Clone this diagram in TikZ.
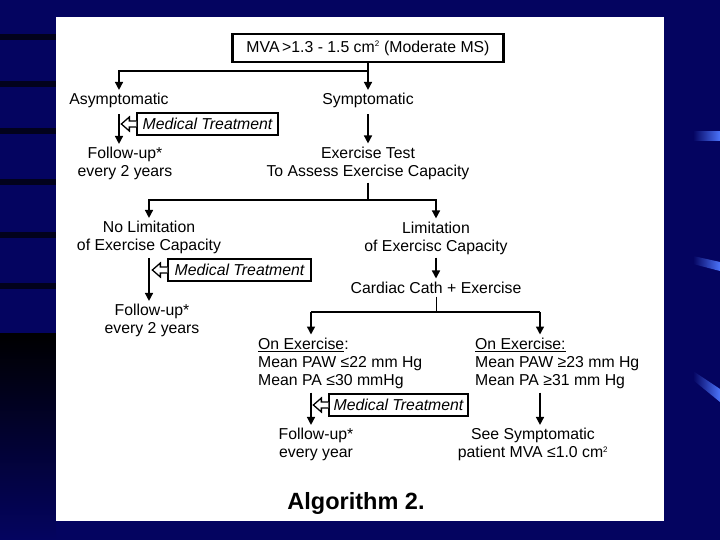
\documentclass[tikz,border=0pt]{standalone}
\usepackage{fontspec}
\setmainfont{Liberation Sans}
\usetikzlibrary{arrows.meta,calc}
\definecolor{navy}{RGB}{4,4,96}
\definecolor{stripe}{RGB}{2,2,28}
\definecolor{barblue}{RGB}{75,115,250}
\tikzset{
  txt/.style={font=\fontsize{15.8}{18}\selectfont, align=center, inner sep=0pt, yshift=-1.5pt},
  mtbox/.style={draw, line width=1.3pt, font=\fontsize{15.8}{18}\selectfont\itshape, inner sep=0pt, minimum height=22pt},
  conn/.style={line width=1.5pt},
  arr/.style={conn, -{Triangle[width=8pt,length=8pt]}, shorten >=3pt},
  branch/.style={line width=2.4pt},
  hol/.style={line width=1.3pt, fill=white, line join=miter},
}
\begin{document}
\begin{tikzpicture}[x=1pt,y=-1pt]
\useasboundingbox (0,0) rectangle (720,540);
% background
\fill[navy] (0,0) rectangle (720,540);
\foreach \yy in {37,84,131,182,235,286}{\fill[stripe] (0,\yy-3) rectangle (56,\yy+3);}
\shade[top color=black, bottom color=navy] (0,333) rectangle (56,540);
\shade[left color=navy, right color=barblue] (693,132) rectangle (720,141);
\shade[left color=navy, right color=barblue] (693,256) -- (720,262) -- (720,271) -- (693,264) -- cycle;
\shade[left color=navy, right color=barblue] (693,371) -- (720,389) -- (720,402) -- (693,380) -- cycle;
% panel
\fill[white] (56,17) rectangle (664,521);

% top
\node[draw, line width=2.4pt, minimum width=271pt, minimum height=28pt, font=\fontsize{15.8}{18}\selectfont, inner sep=0pt] (mva) at (368,48) {MVA\,>1.3 - 1.5 cm\textsuperscript{\footnotesize 2} (Moderate MS)};
\node[txt] (asym) at (119,99) {Asymptomatic};
\node[txt] (sym) at (368,99) {Symptomatic};
\coordinate (b1) at (368,71);
\draw[conn] (mva.south) -- (b1);
\draw[arr] (b1) -| (asym.north);
\draw[arr] (b1) -- (b1 |- sym.north);

% left top
\node[txt] (fu1) at (125,162) {Follow-up*\\every 2 years};
\node[mtbox, minimum width=141pt] (mt1) at (207.5,124) {Medical Treatment};
\draw[arr, shorten <=6pt] (asym.south) -- (asym.south |- fu1.north);
\draw[hol] ($(mt1.west)+(0,3)$) -- ++(-7,0) -- ++(0,4) -- ++(-8,-7) -- ++(8,-7) -- ++(0,4) -- ++(7,0);

% exercise test
\node[txt] (ex) at (368,161.5) {Exercise Test\\To Assess Exercise Capacity};
\draw[arr, shorten <=6pt] (sym.south) -- (sym.south |- ex.north);
\coordinate (b2) at (368,200);
\node[txt] (nolim) at (149,236) {No Limitation\\of Exercise Capacity};
\node[txt] (lim) at (436,236.5) {Limitation\\of Exercisc Capacity};
\draw[conn, shorten <=3pt] (ex.south) -- (b2);
\draw[branch] (nolim.north |- b2) -- (lim.north |- b2);
\draw[arr] (b2) -| (nolim.north);
\draw[arr] (b2) -| (lim.north);

% no limitation branch
\node[txt] (fu2) at (152,319) {Follow-up*\\every 2 years};
\node[mtbox, minimum width=143pt] (mt2) at (239.5,270) {Medical Treatment};
\draw[arr, shorten <=4pt] (nolim.south) -- (nolim.south |- fu2.north);
\draw[hol] ($(mt2.west)+(0,3)$) -- ++(-7,0) -- ++(0,4) -- ++(-8,-7) -- ++(8,-7) -- ++(0,4) -- ++(7,0);

% limitation branch
\node[txt] (cath) at (436,286) {Cardiac Cath + Exercise};
\draw[arr, shorten <=3pt] (lim.south) -- (lim.south |- cath.north);
\coordinate (b3) at (436,312);
\draw[line width=0.9pt, shorten <=3pt] (cath.south) -- (b3);
\coordinate (l3) at (311,312);
\coordinate (r3) at (540,312);
\node[txt, align=left, anchor=north west] (oe1) at (258,336) {\underline{On Exercise}:\\Mean PAW ≤22 mm Hg\\Mean PA ≤30 mmHg};
\node[txt, align=left, anchor=north west] (oe2) at (475,336) {\underline{On Exercise:}\\Mean PAW ≥23 mm Hg\\Mean PA ≥31 mm Hg};
\draw[branch] (l3) -- (r3);
\draw[arr] (l3) -- (l3 |- oe1.north);
\draw[arr] (r3) -- (r3 |- oe2.north);

% bottom
\node[txt] (fu3) at (316,443) {Follow-up*\\every year};
\node[txt] (ssym) at (533,443) {See Symptomatic\\patient MVA ≤1.0 cm\textsuperscript{\footnotesize 2}};
\node[mtbox, minimum width=139pt] (mt3) at (398.5,405) {Medical Treatment};
\draw[arr, shorten <=4pt] (l3 |- oe1.south) -- (l3 |- fu3.north);
\draw[arr, shorten <=4pt] (r3 |- oe2.south) -- (r3 |- ssym.north);
\draw[hol] ($(mt3.west)+(0,3)$) -- ++(-7,0) -- ++(0,4) -- ++(-8,-7) -- ++(8,-7) -- ++(0,4) -- ++(7,0);

\node[font=\fontsize{23.5}{26}\selectfont\bfseries, inner sep=0pt] (alg) at (356,503) {Algorithm 2.};
\end{tikzpicture}
\end{document}
